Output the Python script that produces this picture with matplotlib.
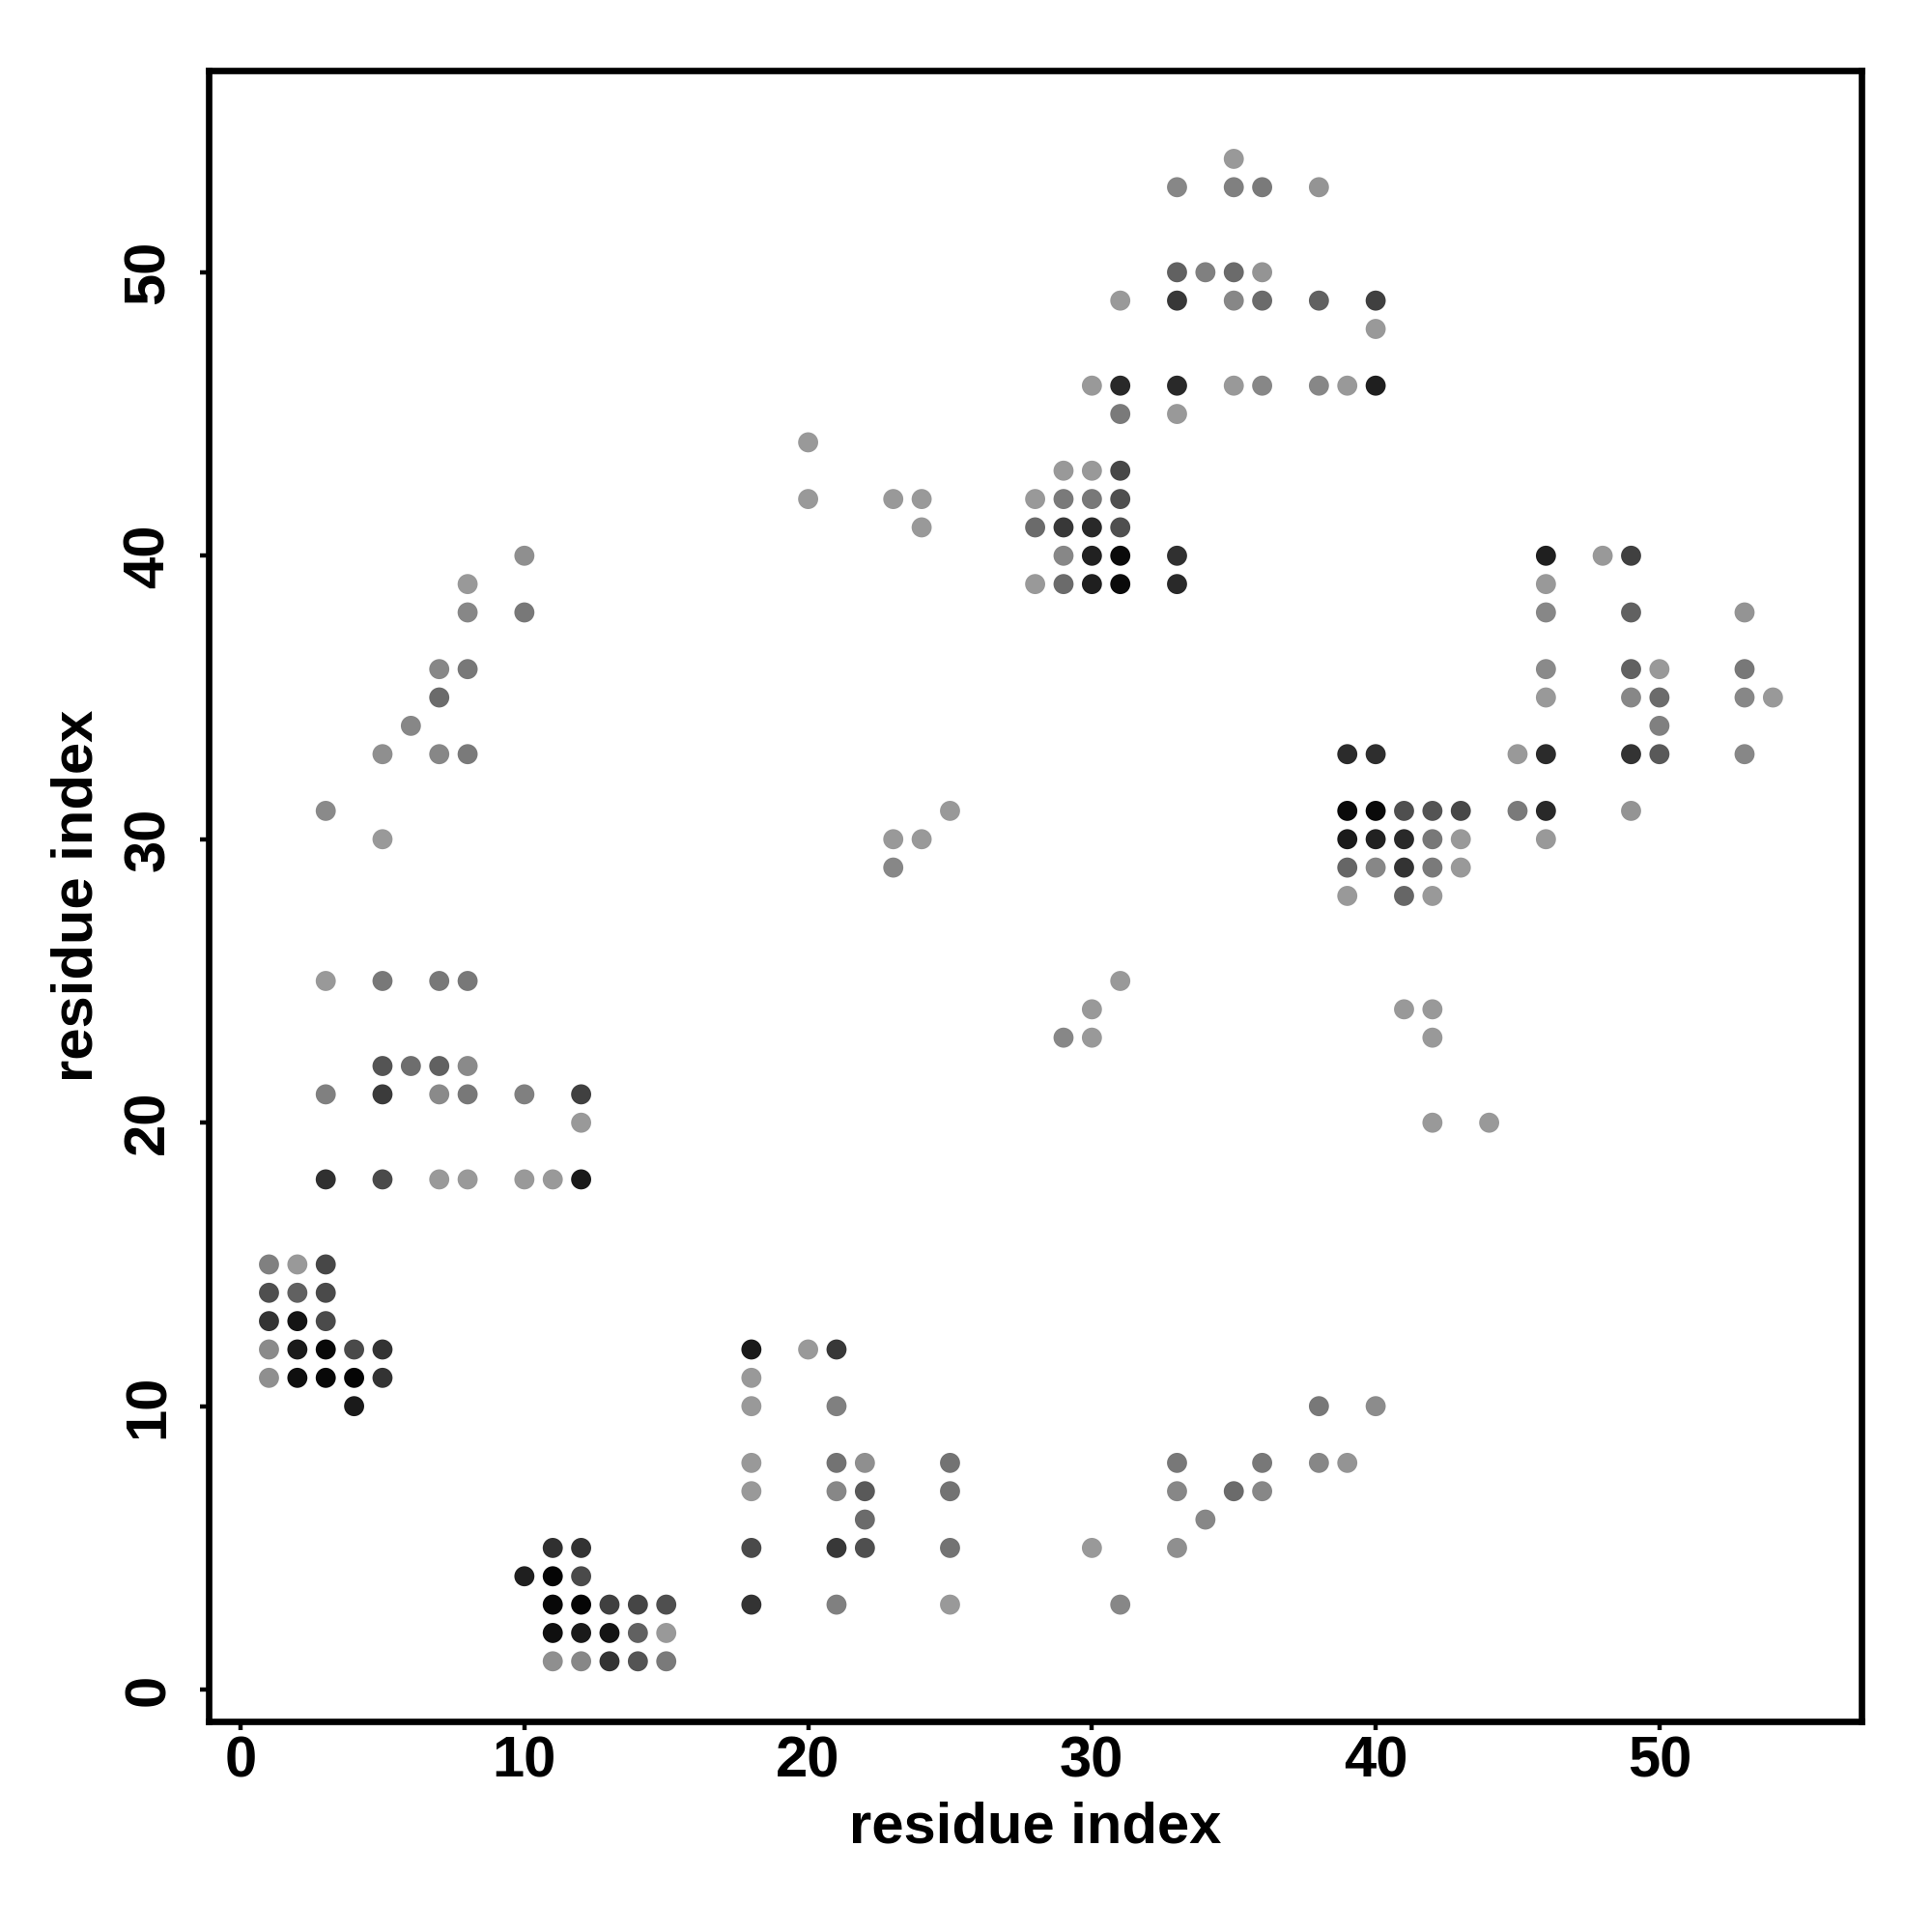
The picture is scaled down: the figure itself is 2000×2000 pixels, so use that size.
import matplotlib.pyplot as plt

# contact map: residue i, residue j, grey level of the dot (0 = black, 1 = white)
res_i = [1, 2, 3, 1, 2, 3, 1, 2, 3, 1, 2, 3, 4, 5, 1, 2, 3, 4, 5, 4,
         11, 12, 10, 11, 12, 11, 12, 13, 14, 15, 11, 12, 13, 14, 15, 11, 12, 13, 14, 15,
         18, 18, 18, 18, 18, 18, 18, 20, 21, 21, 21, 22, 25, 21, 22, 25, 22, 21, 22, 25, 21, 25,
         30, 31, 33, 33, 33, 34, 35, 36, 36, 38, 38, 39, 40,
         3, 3, 3, 3, 5, 5, 5, 5, 5, 5, 6, 6, 7, 7, 7, 7, 7, 7, 7,
         8, 8, 8, 8, 8, 8, 8, 8, 10, 10, 10, 10, 11, 12, 12, 12,
         23, 24, 23, 25, 29, 30, 30, 31,
         20, 20, 23, 24, 24, 28, 29, 30, 31, 29, 30, 31, 28, 29, 30, 31,
         29, 30, 31, 33, 28, 29, 30, 31, 33, 31, 33,
         30, 31, 33, 35, 36, 38, 39, 40, 31, 33, 35, 36, 38, 40, 40,
         33, 34, 35, 36, 33, 35, 36, 38, 35,
         46, 48, 49, 46, 46, 49, 53, 46, 49, 50, 53, 46, 49, 50, 53, 54, 50,
         39, 40, 45, 46, 49, 50, 53, 39, 40, 41, 42, 43, 45, 46, 49,
         39, 40, 41, 42, 43, 46, 39, 40, 41, 42, 43, 39, 41, 42,
         41, 42, 42, 42, 44]
res_j = [15, 15, 15, 14, 14, 14, 13, 13, 13, 12, 12, 12, 12, 12, 11, 11, 11, 11, 11, 10,
         5, 5, 4, 4, 4, 3, 3, 3, 3, 3, 2, 2, 2, 2, 2, 1, 1, 1, 1, 1,
         12, 11, 10, 8, 7, 5, 3, 12, 12, 10, 8, 8, 8, 7, 7, 7, 6, 5, 5, 5, 3, 3,
         5, 3, 8, 7, 5, 6, 7, 8, 7, 10, 8, 8, 10,
         31, 25, 21, 18, 33, 30, 25, 22, 21, 18, 34, 22, 36, 35, 33, 25, 22, 21, 18,
         39, 38, 36, 33, 25, 22, 21, 18, 40, 38, 21, 18, 18, 21, 20, 18,
         30, 30, 29, 31, 23, 23, 24, 25,
         44, 42, 42, 42, 41, 42, 42, 42, 42, 43, 43, 43, 41, 41, 41, 41,
         40, 40, 40, 40, 39, 39, 39, 39, 39, 45, 45,
         46, 46, 46, 46, 46, 46, 46, 46, 49, 49, 49, 49, 49, 49, 48,
         50, 50, 50, 50, 53, 53, 53, 53, 54,
         40, 40, 40, 39, 38, 38, 38, 36, 36, 36, 36, 35, 35, 35, 35, 35, 34,
         33, 33, 33, 33, 33, 33, 33, 31, 31, 31, 31, 31, 31, 31, 31,
         30, 30, 30, 30, 30, 30, 29, 29, 29, 29, 29, 28, 28, 28,
         24, 24, 23, 20, 20]
shade = [0.50, 0.60, 0.28, 0.31, 0.38, 0.29, 0.20, 0.08, 0.29, 0.54, 0.10, 0.03, 0.29, 0.20,
         0.56, 0.06, 0.03, 0.02, 0.20, 0.10,
         0.19, 0.20, 0.12, 0.02, 0.29, 0.03, 0.02, 0.25, 0.27, 0.31, 0.06, 0.10, 0.08, 0.38, 0.60,
         0.56, 0.53, 0.20, 0.33, 0.48,
         0.10, 0.60, 0.60, 0.60, 0.60, 0.29, 0.20, 0.60, 0.22, 0.50, 0.45, 0.56, 0.45, 0.53, 0.35,
         0.45, 0.42, 0.22, 0.31, 0.45, 0.50, 0.60,
         0.60, 0.53, 0.47, 0.53, 0.56, 0.53, 0.42, 0.47, 0.53, 0.47, 0.53, 0.58, 0.55,
         0.54, 0.60, 0.50, 0.19, 0.56, 0.60, 0.47, 0.33, 0.23, 0.29, 0.53, 0.43, 0.53, 0.42, 0.53,
         0.47, 0.38, 0.54, 0.60,
         0.60, 0.53, 0.47, 0.48, 0.47, 0.54, 0.47, 0.60, 0.56, 0.47, 0.50, 0.60, 0.60, 0.25, 0.60, 0.10,
         0.60, 0.60, 0.53, 0.60, 0.53, 0.60, 0.60, 0.60,
         0.60, 0.60, 0.60, 0.60, 0.60, 0.60, 0.48, 0.47, 0.31, 0.60, 0.60, 0.28, 0.42, 0.22, 0.16, 0.31,
         0.53, 0.13, 0.04, 0.19, 0.60, 0.42, 0.12, 0.04, 0.16, 0.48, 0.60,
         0.60, 0.16, 0.16, 0.60, 0.53, 0.53, 0.60, 0.12, 0.60, 0.22, 0.53, 0.42, 0.38, 0.25, 0.60,
         0.38, 0.50, 0.42, 0.58, 0.53, 0.50, 0.48, 0.58, 0.60,
         0.12, 0.60, 0.25, 0.60, 0.53, 0.38, 0.58, 0.54, 0.38, 0.60, 0.47, 0.60, 0.53, 0.42, 0.53,
         0.60, 0.50,
         0.17, 0.18, 0.60, 0.17, 0.20, 0.35, 0.53, 0.04, 0.04, 0.31, 0.33, 0.28, 0.48, 0.16, 0.58,
         0.10, 0.13, 0.16, 0.47, 0.60, 0.60, 0.40, 0.53, 0.20, 0.48, 0.60, 0.60, 0.40, 0.60,
         0.60, 0.60, 0.60, 0.60, 0.60]
ticks = [0, 10, 20, 30, 40, 50]

plt.rcParams['font.family'] = ['Liberation Sans', 'DejaVu Sans']
plt.rcParams['font.weight'] = 'bold'

fig = plt.figure(figsize=(10, 10), dpi=200)
ax = fig.add_axes([0.1078, 0.109, 0.8557, 0.8547])

ax.scatter(res_i, res_j, c=[str(g) for g in shade], s=56, linewidths=0, zorder=3)

ax.set_xlim(-1.14, 57.12)
ax.set_ylim(-1.12, 57.13)
ax.set_xticks(ticks)
ax.set_yticks(ticks)
for s in ax.spines.values():
    s.set_linewidth(2.4)

ax.tick_params(axis='both', labelsize=21.5, width=1.6, length=3.2)
ax.tick_params(axis='x', pad=2)
ax.tick_params(axis='y', pad=9)
for t in ax.get_yticklabels():
    t.set_rotation(90)
    t.set_va('center')
for t in ax.get_xticklabels() + ax.get_yticklabels():
    t.set_fontweight('bold')

ax.set_xlabel('residue index', fontsize=21.5, fontweight='bold')
ax.set_ylabel('residue index', fontsize=21.5, fontweight='bold')
ax.xaxis.label.set_va('center')
ax.yaxis.label.set_va('center')
ax.xaxis.set_label_coords(0.5, -0.0644)
ax.yaxis.set_label_coords(-0.0792, 0.5)

plt.savefig('out.png', dpi=200)
